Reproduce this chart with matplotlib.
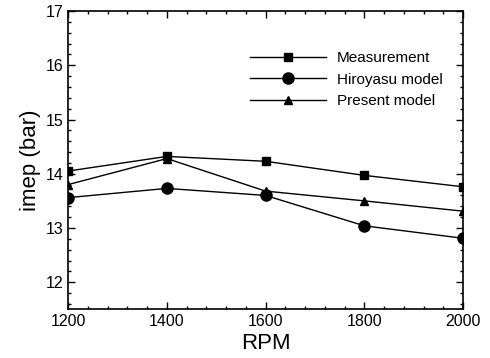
import matplotlib
matplotlib.use("Agg")
import matplotlib.pyplot as plt
from matplotlib.ticker import MultipleLocator

plt.rcParams["font.family"] = ["Liberation Sans", "DejaVu Sans"]

rpm = [1200, 1400, 1600, 1800, 2000]
measurement = [14.05, 14.32, 14.23, 13.97, 13.76]
hiroyasu = [13.56, 13.73, 13.60, 13.04, 12.81]
present = [13.80, 14.28, 13.68, 13.50, 13.31]

fig = plt.figure(figsize=(4.9, 3.58), dpi=100)
ax = fig.add_axes([0.139, 0.136, 0.806, 0.833])

ax.plot(rpm, measurement, "k-s", lw=1, ms=6, label="Measurement")
ax.plot(rpm, hiroyasu, "k-o", lw=1, ms=8, label="Hiroyasu model")
ax.plot(rpm, present, "k-^", lw=1, ms=6, label="Present model")

ax.set_xlim(1200, 2000)
ax.set_ylim(11.5, 17)
ax.xaxis.set_major_locator(MultipleLocator(200))
ax.xaxis.set_minor_locator(MultipleLocator(40))
ax.yaxis.set_major_locator(MultipleLocator(1))
ax.yaxis.set_minor_locator(MultipleLocator(0.2))
ax.tick_params(which="both", direction="in", top=True, right=True,
               labelsize=11.5, width=1)
ax.tick_params(which="major", length=5)
ax.tick_params(which="minor", length=2.5)
for s in ax.spines.values():
    s.set_linewidth(1.2)

ax.set_xlabel("RPM", fontsize=16, labelpad=3)
ax.set_ylabel("imep (bar)", fontsize=16, labelpad=3)

ax.legend(loc="upper left", bbox_to_anchor=(0.44, 0.892), frameon=False,
          fontsize=11, handlelength=5.0, handletextpad=0.7,
          labelspacing=0.5, borderpad=0)

fig.savefig("out.png", dpi=100)
